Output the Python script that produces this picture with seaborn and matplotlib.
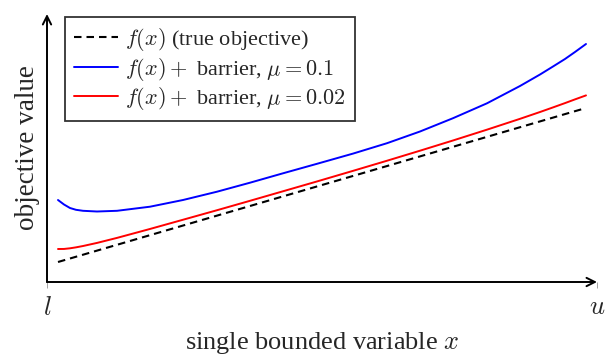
import numpy as np
import pandas as pd
import matplotlib
matplotlib.use("Agg")
import matplotlib.pyplot as plt
import seaborn as sns

# x position between bounds l (0) and u (1)
x_vals = [0.0200, 0.0309, 0.0418, 0.0527, 0.0655, 0.0909, 0.1273, 0.1873,
          0.2473, 0.3091, 0.3691, 0.4291, 0.4909, 0.5564, 0.6182, 0.6782,
          0.7382, 0.8000, 0.8600, 0.8964, 0.9200, 0.9418, 0.9600, 0.9800]
# objective values (arbitrary units)
true_obj = [20.0, 21.75, 23.5, 25.25, 27.29, 31.38, 37.21, 46.84,
            56.46, 66.38, 76.0, 85.63, 95.55, 106.05, 115.97, 125.6,
            135.22, 145.14, 154.77, 160.6, 164.39, 167.9, 170.82, 174.0]
barrier_01 = [82.0, 77.5, 74.0, 72.2, 71.2, 70.5, 71.2, 75.3,
              82.0, 90.3, 99.3, 108.7, 118.2, 128.4, 138.8, 150.5,
              163.8, 178.7, 196.0, 207.5, 215.5, 223.0, 230.0, 238.0]
barrier_002 = [33.0, 33.05, 33.7, 34.65, 35.99, 39.08, 44.11, 53.04,
               62.26, 71.78, 81.2, 90.73, 100.55, 111.15, 121.27, 131.3,
               141.52, 152.34, 163.17, 170.0, 174.59, 178.9, 182.62, 186.6]

labels = [r"$f(x)$ (true objective)",
          r"$f(x)+$ barrier, $\mu = 0.1$",
          r"$f(x)+$ barrier, $\mu = 0.02$"]
tick_labels = [r"$l$", r"$u$"]

sns.set_style("white")
plt.rcParams["font.family"] = ["Liberation Serif", "DejaVu Serif"]
plt.rcParams["mathtext.fontset"] = "cm"

fig = plt.figure(figsize=(6.05, 3.56), dpi=100)
ax = fig.add_axes([47 / 605, (356 - 282) / 356, 550 / 605, 268 / 356])

df = pd.DataFrame({"x": x_vals, "t": true_obj, "b1": barrier_01, "b2": barrier_002})
sns.lineplot(data=df, x="x", y="t", ax=ax, color="black", lw=1.5, label=labels[0])
ax.lines[-1].set_dashes((3.6, 2.4))
sns.lineplot(data=df, x="x", y="b1", ax=ax, color="#0000ff", lw=1.4, label=labels[1])
sns.lineplot(data=df, x="x", y="b2", ax=ax, color="#ff0000", lw=1.4, label=labels[2])

ax.set_xlim(0, 1)
ax.set_ylim(0, 268)
for s in ax.spines.values():
    s.set_visible(False)

arrow = dict(arrowstyle="->", lw=1.4, color="black", shrinkA=0, shrinkB=0,
             mutation_scale=15)
ax.annotate("", xy=(1.0, 0), xytext=(0, 0), xycoords="axes fraction",
            arrowprops=arrow)
ax.annotate("", xy=(0, 1.0), xytext=(0, 0), xycoords="axes fraction",
            arrowprops=arrow)

ax.set_xticks([0, 1])
ax.set_xticklabels(tick_labels, fontsize=19)
ax.set_yticks([])
ax.tick_params(axis="x", length=4, width=0.5, color="0.5", pad=7, bottom=True)

ax.set_xlabel(r"single bounded variable $x$", fontsize=19, labelpad=7)
ax.set_ylabel("objective value", fontsize=19.5, labelpad=5)

leg = ax.legend(loc="upper left", bbox_to_anchor=(18 / 550, 265 / 268),
                borderaxespad=0, frameon=True, fancybox=False, fontsize=16,
                handlelength=2.0, handletextpad=0.32, labelspacing=0.12,
                borderpad=0.4)
leg.get_frame().set_edgecolor("black")
leg.get_frame().set_linewidth(1.3)
leg.get_lines()[0].set_dashes((3.6, 2.4))

fig.savefig("out.png", dpi=100)
